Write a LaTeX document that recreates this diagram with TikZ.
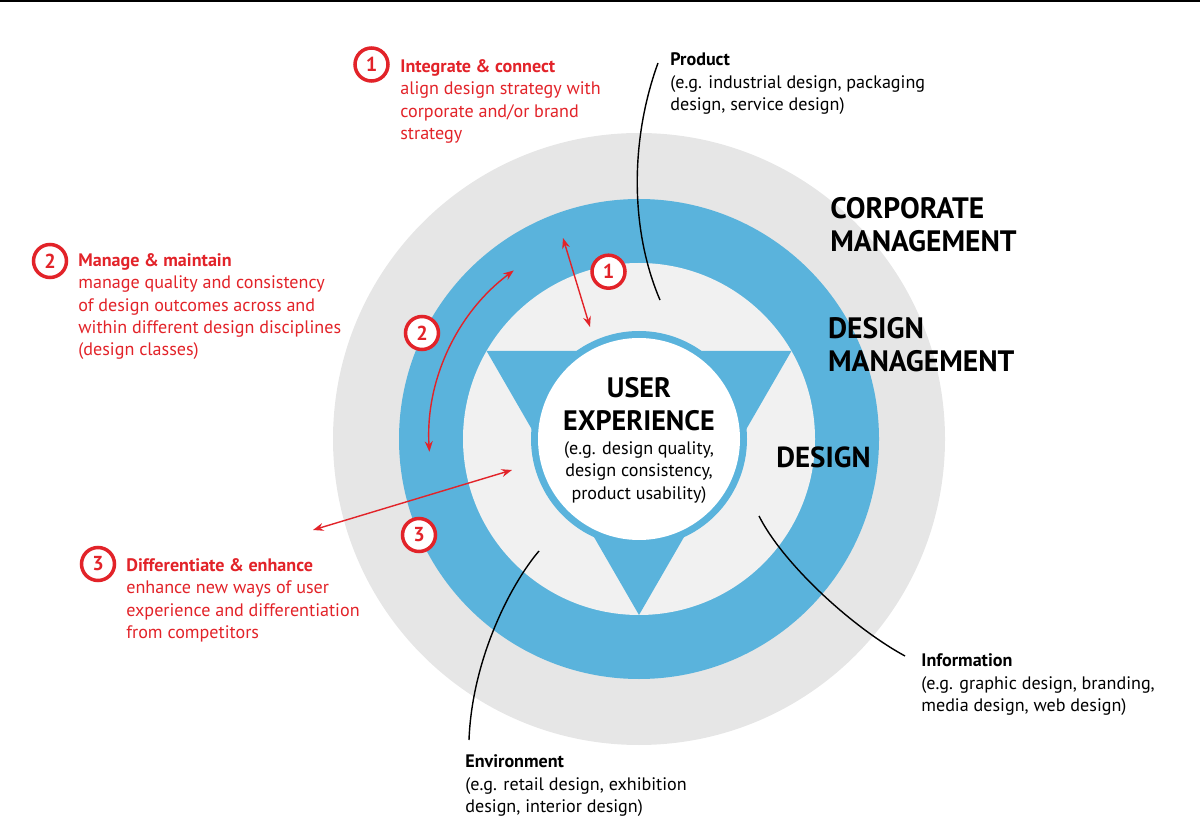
\documentclass[tikz,border=0pt]{standalone}
\usepackage{fontspec}
\setmainfont{PT Sans}
\usetikzlibrary{arrows.meta}

\definecolor{ringblue}{RGB}{90,179,220}
\definecolor{outergray}{RGB}{230,230,230}
\definecolor{innergray}{RGB}{241,241,241}
\definecolor{accentred}{RGB}{226,35,41}

\tikzset{
  bodytext/.style={align=left, inner sep=0pt, anchor=base west, font=\fontsize{10.3}{12.8}\selectfont},
  redtext/.style={bodytext, text=accentred},
  bigtext/.style={align=left, inner sep=0pt, anchor=base west, font=\fontsize{16.8}{18.9}\selectfont\bfseries},
  marker/.style={circle, draw=accentred, line width=2pt, fill=white, minimum size=0.66cm, inner sep=0pt,
    text=accentred, font=\fontsize{11.5}{12}\selectfont\bfseries},
  leader/.style={line width=0.8pt, black},
  redarrow/.style={accentred, line width=0.8pt, {Stealth[length=6pt,width=4.5pt]}-{Stealth[length=6pt,width=4.5pt]}}
}

\begin{document}
\begin{tikzpicture}[x=0.02cm, y=-0.02cm]

\useasboundingbox (0,0) rectangle (1200,837);
\fill[black] (0,0) rectangle (1200,2.5);

\def\graydisk{(639,439) circle (306)}
\def\bluedisk{(639,439) circle (240)}
\def\lightdisk{(639,439) circle (176)}
\def\uxrim{(639,439) circle (108)}
\def\uxdisk{(639,439) circle (101)}

% rings
\fill[outergray] \graydisk;
\fill[ringblue] \bluedisk;
\fill[innergray] \lightdisk;
\fill[ringblue] (486.6,351) -- (791.4,351) -- (639,615) -- cycle;
\fill[ringblue] \uxrim;
\fill[white] \uxdisk;

% labels on the rings (anchored at the last line)
\node[bigtext] (corp) at (830,251.7) {CORPORATE\\MANAGEMENT};
\node[bigtext] (dmgmt) at (827.7,371.7) {DESIGN\\MANAGEMENT};
\node[bigtext, font=\fontsize{16.5}{18.9}\selectfont\bfseries] (design) at (776,467.3) {DESIGN};
\node[bigtext, align=center, anchor=base, font=\fontsize{16}{18.9}\selectfont\bfseries] (ux) at (639,430.7) {USER\\EXPERIENCE};
\node[bodytext, align=center, anchor=base] (uxnote) at (639,499.3) {(e.g. design quality,\\design consistency,\\product usability)};

% design classes
\node[bodytext] (prod) at (670,110.5) {\textbf{Product}\\(e.g. industrial design, packaging\\design, service design)};
\node[bodytext] (info) at (921,711.5) {\textbf{Information}\\(e.g. graphic design, branding,\\media design, web design)};
\node[bodytext] (env) at (465,812.5) {\textbf{Environment}\\(e.g. retail design, exhibition\\design, interior design)};

\coordinate (prodstart) at (658,63);
\coordinate (prodtip) at (660,300);
\coordinate (infostart) at (905,656);
\coordinate (infotip) at (759,516);
\coordinate (envstart) at (469,740);
\coordinate (envtip) at (539,551);

\draw[leader] (prodstart) .. controls (630,140) and (630,230) .. (prodtip);
\draw[leader] (infotip) .. controls (782,562) and (850,626) .. (infostart);
\draw[leader] (envtip) .. controls (510,585) and (472,660) .. (envstart);

% roles
\node[marker] (m1) at (371.5,64.5) {1};
\node[marker] (m2) at (50,261) {2};
\node[marker] (m3) at (98,564) {3};
\node[redtext] (role1) at (400,139.5) {\textbf{Integrate \& connect}\\align design strategy with\\corporate and/or brand\\strategy};
\node[redtext] (role2) at (78,356) {\textbf{Manage \& maintain}\\manage quality and consistency\\of design outcomes across and\\within different design disciplines\\(design classes)};
\node[redtext] (role3) at (126,638.5) {\textbf{Differentiate \& enhance}\\enhance new ways of user\\experience and differentiation\\from competitors};

\coordinate (a1out) at (563,238);
\coordinate (a1in) at (590,327);
\coordinate (a3out) at (313,530);
\coordinate (a3in) at (512,470);

\draw[redarrow] (a1out) -- (a1in);
\draw[redarrow] (639,439) ++(-126.6:210) arc[start angle=-126.6, end angle=-183.5, radius=210];
\draw[redarrow] (a3out) -- (a3in);

\node[marker] (d1) at (608.5,271.7) {1};
\node[marker] (d2) at (422,333) {2};
\node[marker] (d3) at (419,535) {3};

\end{tikzpicture}
\end{document}
